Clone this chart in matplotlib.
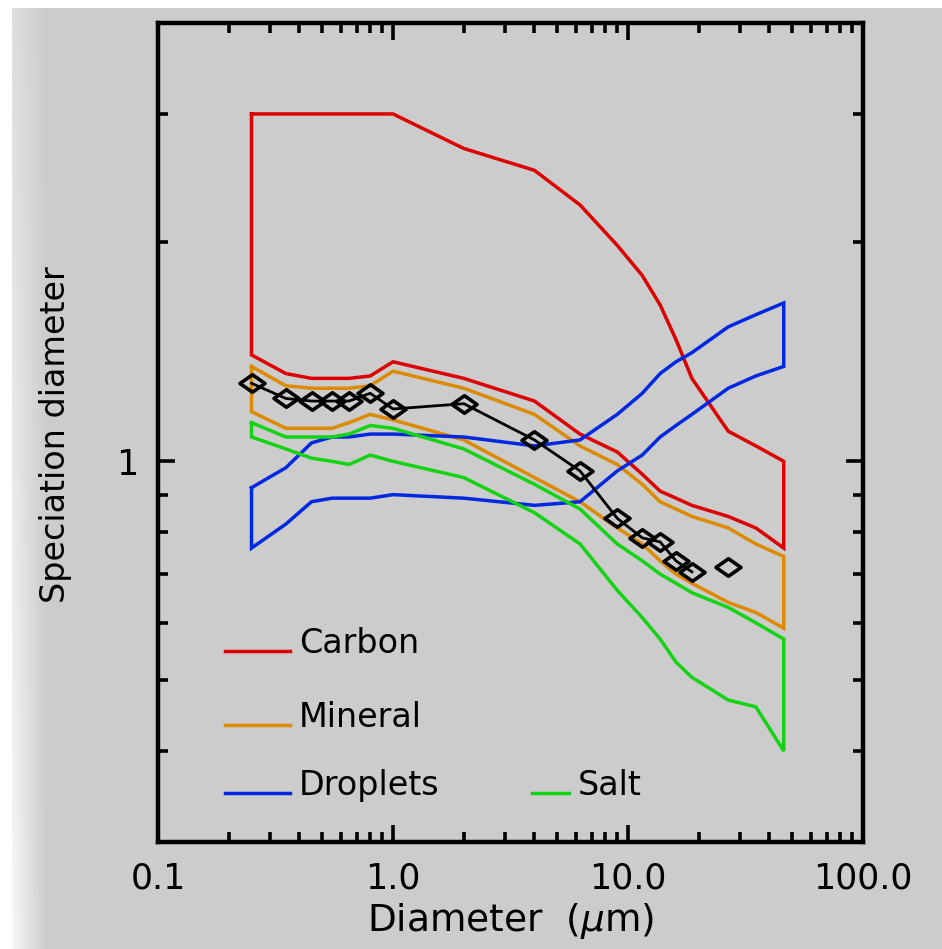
import numpy as np
import matplotlib
matplotlib.use("Agg")
import matplotlib.pyplot as plt
from matplotlib.path import Path
from matplotlib.ticker import FixedLocator, FixedFormatter, LogLocator, NullFormatter

# Particle diameter grid (um) shared by all bands
diameter = [0.25, 0.35, 0.45, 0.55, 0.65, 0.8, 1.0, 2.0, 4.0, 6.25, 9.0,
            11.5, 13.7, 16.0, 18.7, 26.7, 35.0, 46.0]

carbon_upper = [3.0, 3.0, 3.0, 3.0, 3.0, 3.0, 3.0, 2.69, 2.51, 2.25, 1.98,
                1.80, 1.64, 1.47, 1.30, 1.10, 1.05, 1.0]
carbon_lower = [1.40, 1.32, 1.30, 1.30, 1.30, 1.31, 1.37, 1.30, 1.21, 1.09, 1.03,
                0.96, 0.91, 0.89, 0.87, 0.84, 0.81, 0.76]
mineral_upper = [1.35, 1.27, 1.26, 1.26, 1.26, 1.27, 1.33, 1.26, 1.16, 1.05, 0.99,
                 0.93, 0.88, 0.86, 0.84, 0.81, 0.77, 0.74]
mineral_lower = [1.17, 1.11, 1.11, 1.11, 1.13, 1.16, 1.14, 1.07, 0.95, 0.88, 0.81,
                 0.77, 0.73, 0.70, 0.68, 0.64, 0.62, 0.59]
droplets_upper = [0.92, 0.98, 1.06, 1.08, 1.08, 1.09, 1.09, 1.08, 1.05, 1.07, 1.16,
                  1.24, 1.32, 1.37, 1.41, 1.53, 1.59, 1.65]
droplets_lower = [0.76, 0.82, 0.88, 0.89, 0.89, 0.89, 0.90, 0.89, 0.87, 0.88, 0.97,
                  1.02, 1.08, 1.12, 1.16, 1.26, 1.31, 1.35]
salt_upper = [1.13, 1.08, 1.08, 1.08, 1.09, 1.12, 1.11, 1.04, 0.93, 0.86, 0.77,
              0.73, 0.70, 0.68, 0.66, 0.63, 0.60, 0.57]
salt_lower = [1.08, 1.04, 1.01, 1.00, 0.99, 1.02, 1.00, 0.95, 0.85, 0.77, 0.665,
              0.61, 0.57, 0.53, 0.505, 0.47, 0.46, 0.40]

# Measured speciation diameters (the last point stands alone)
meas_x = [0.25, 0.35, 0.45, 0.55, 0.65, 0.8, 1.0, 2.0, 4.0, 6.25, 9.0,
          11.5, 13.7, 16.0, 18.7, 26.7]
meas_y = [1.28, 1.22, 1.21, 1.21, 1.21, 1.24, 1.18, 1.20, 1.07, 0.97, 0.835,
          0.785, 0.775, 0.73, 0.705, 0.715]
n_connected = 15

xtick_vals = [0.1, 1.0, 10.0, 100.0]
xtick_labels = ["0.1", "1.0", "10.0", "100.0"]
ytick_vals = [1.0]
ytick_labels = ["1"]

bands = [
    ("Carbon", carbon_upper, carbon_lower, "#dc0000"),
    ("Mineral", mineral_upper, mineral_lower, "#dc8a00"),
    ("Droplets", droplets_upper, droplets_lower, "#0028e0"),
    ("Salt", salt_upper, salt_lower, "#14d214"),
]

W, H = 942, 949
fig = plt.figure(figsize=(W / 100, H / 100), dpi=100)
fig.patch.set_facecolor("#cccccc")

# pale border along the top and left edges
bg = np.full((H, W), 204.0)
xx = np.arange(W)[None, :]
yy = np.arange(H)[:, None]
fade = np.clip(1 - (xx - 12) / 34.0, 0, 1) * (0.35 + 0.5 * yy / H)
bg = bg + (255 - bg) * np.clip(fade, 0, 1)
bg[:, :12] = 255
bg[:8, :] = 255
bax = fig.add_axes([0, 0, 1, 1], zorder=-5)
bax.imshow(np.dstack([bg, bg, bg]).astype(np.uint8), aspect="auto",
           interpolation="nearest")
bax.axis("off")

ax = fig.add_axes([158 / W, 1 - 842 / H, 705 / W, 819 / H])
ax.set_facecolor("none")
ax.set_xscale("log")
ax.set_yscale("log")
ax.set_xlim(0.1, 100)
ax.set_ylim(0.3, 4.0)

lw = 2.5
for name, up, lo, col in bands:
    xs = diameter + diameter[::-1] + [diameter[0]]
    ys = up + lo[::-1] + [up[0]]
    ax.plot(xs, ys, color=col, lw=lw, solid_joinstyle="miter")

diamond = Path([(-1, 0), (0, 0.7), (1, 0), (0, -0.7), (-1, 0)],
               [Path.MOVETO, Path.LINETO, Path.LINETO, Path.LINETO, Path.CLOSEPOLY])
ax.plot(meas_x[:n_connected], meas_y[:n_connected], color="black", lw=2.0)
ax.plot(meas_x, meas_y, ls="none", marker=diamond, ms=18, mfc="none",
        mec="black", mew=2.6)

# axes frame and ticks
for sp in ax.spines.values():
    sp.set_linewidth(3.2)
ax.xaxis.set_major_locator(FixedLocator(xtick_vals))
ax.xaxis.set_major_formatter(FixedFormatter(xtick_labels))
ax.xaxis.set_minor_locator(LogLocator(base=10, subs=np.arange(2, 10)))
ax.xaxis.set_minor_formatter(NullFormatter())
ax.yaxis.set_major_locator(FixedLocator(ytick_vals))
ax.yaxis.set_major_formatter(FixedFormatter(ytick_labels))
ax.yaxis.set_minor_locator(LogLocator(base=10, subs=np.arange(2, 10)))
ax.yaxis.set_minor_formatter(NullFormatter())
ax.tick_params(which="both", direction="in", top=True, right=True, width=2.6,
               color="black")
ax.tick_params(which="major", length=12, labelsize=25, pad=14)
ax.tick_params(which="minor", length=7)

ax.set_xlabel(r"Diameter  ($\mu$m)", fontsize=27)
ax.xaxis.set_label_coords(0.5, (842 - 921) / 819)
ax.xaxis.label.set_va("center")
ax.set_ylabel("Speciation diameter", fontsize=24)
ax.yaxis.set_label_coords((55 - 158) / 705, 0.497)
ax.yaxis.label.set_va("center")

# legend entries drawn inside the axes
def fx(px):
    return (px - 158) / 705

def fy(py):
    return (842 - py) / 819

legend_rows = [("Carbon", 225, 290, 651), ("Mineral", 225, 290, 725),
               ("Droplets", 225, 290, 793), ("Salt", 532, 569, 793)]
colors = {b[0]: b[3] for b in bands}
for name, x0, x1, py in legend_rows:
    ax.plot([fx(x0), fx(x1)], [fy(py), fy(py)], color=colors[name], lw=lw,
            transform=ax.transAxes)
    ax.text(fx(x1 + 9), fy(py + 2), name, transform=ax.transAxes, fontsize=24,
            ha="left", va="baseline", color="black")

fig.savefig("out.png", dpi=100, facecolor=fig.get_facecolor())
